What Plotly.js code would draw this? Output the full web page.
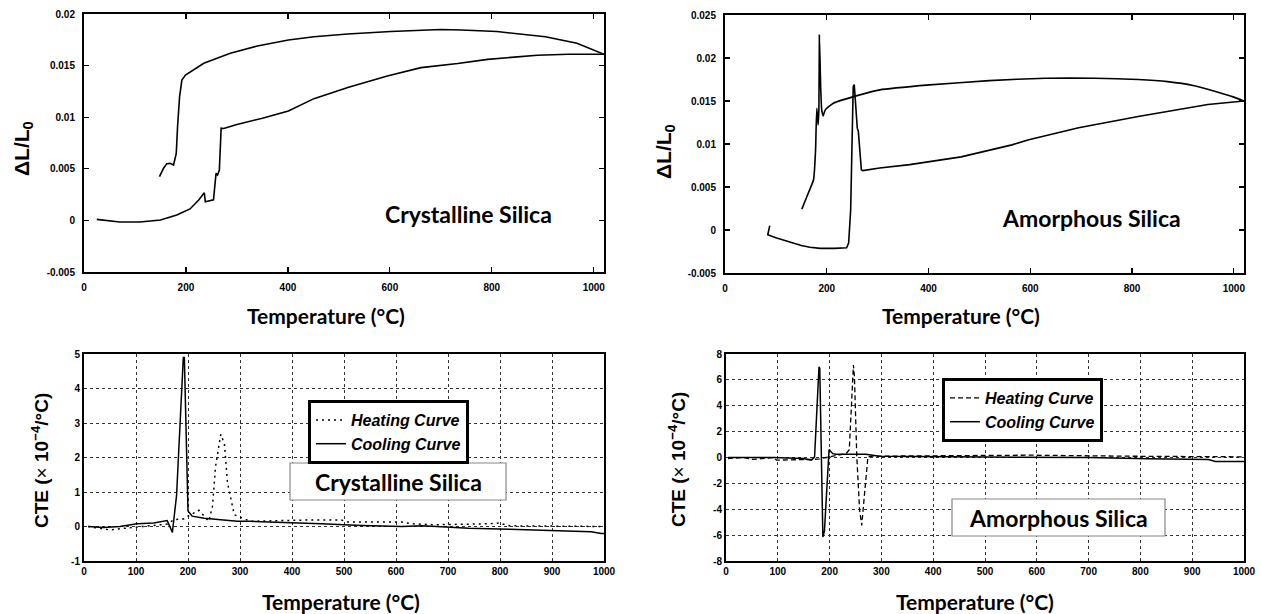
<!DOCTYPE html>
<html><head><meta charset="utf-8">
<script src="https://cdn.plot.ly/plotly-3.0.1.min.js"></script>
<style>html,body{margin:0;padding:0;background:#fff}#chart{width:1261px;height:614px}</style>
</head><body><div id="chart"></div>
<script>
// ---------- Panel 1: Crystalline silica, dL/L0 ----------
const xtalDLHeatT = [25, 45, 70, 110, 150, 182, 208, 225, 236, 238, 251, 254, 259, 262, 265.5, 269, 274, 300, 350, 401, 451, 519, 595, 661, 733, 792, 838, 889, 950, 1020];
const xtalDLHeat  = [0.0001, 0.0, -0.00016, -0.00016, 0.00004, 0.00052, 0.00111, 0.00198, 0.00268, 0.00181, 0.00198, 0.0020, 0.00456, 0.0044, 0.00488, 0.00893, 0.0089, 0.0093, 0.0099, 0.0106, 0.0118, 0.0129, 0.0140, 0.0148, 0.0152, 0.0156, 0.0158, 0.0160, 0.0161, 0.0161];
const xtalDLCoolT = [1020, 967, 905, 810, 740, 700, 602, 517, 451, 401, 340, 287, 235, 199, 192, 187.5, 183.5, 181, 175.6, 169, 162.6, 156, 148];
const xtalDLCool  = [0.0161, 0.01716, 0.0178, 0.0183, 0.01845, 0.0185, 0.0183, 0.01806, 0.0178, 0.01748, 0.0169, 0.0162, 0.01522, 0.01409, 0.0136, 0.0120, 0.00908, 0.0065, 0.00537, 0.00553, 0.0055, 0.00505, 0.00424];

// ---------- Panel 2: Amorphous silica, dL/L0 ----------
const amorDLHeatT = [88, 84, 100, 122, 150, 167, 187, 215, 239, 243, 247, 249, 252, 254, 256, 260, 262, 268, 271, 304, 363, 434, 464, 564, 597, 695, 812, 949, 1020];
const amorDLHeat  = [0.0005, -0.00055, -0.0009, -0.00133, -0.0018, -0.0020, -0.00214, -0.00214, -0.00206, -0.00152, 0.00235, 0.00816, 0.01667, 0.0169, 0.01474, 0.01184, 0.0115, 0.0070, 0.0069, 0.0072, 0.0076, 0.0082, 0.0085, 0.0099, 0.0105, 0.0119, 0.0132, 0.0146, 0.0150];
const amorDLCoolT = [1020, 1000, 964, 920, 870, 812, 727, 630, 519, 402, 304, 265, 213, 197, 193, 190, 188, 185.5, 184.5, 183, 180.5, 179, 178, 174, 161, 151];
const amorDLCool  = [0.0150, 0.01545, 0.0161, 0.0168, 0.01725, 0.0175, 0.01765, 0.01765, 0.01737, 0.01687, 0.01629, 0.01571, 0.01474, 0.01397, 0.01327, 0.0140, 0.0167, 0.02268, 0.0140, 0.01222, 0.01416, 0.01164, 0.00932, 0.00584, 0.0039, 0.00243];

// ---------- Panel 3: Crystalline silica, CTE ----------
const xtalCteHeatT = [8, 30, 50, 79, 100, 134, 160, 173, 192, 200, 221, 240, 247, 253, 263, 270, 276, 289, 320, 437, 495, 505, 611, 630, 675, 779, 798, 818, 900, 1000];
const xtalCteHeat  = [0, -0.05, -0.1, -0.05, -0.02, 0.05, 0.07, 0.2, 0.22, 0.3, 0.47, 0.15, 0.58, 1.74, 2.67, 2.4, 1.26, 0.34, 0.15, 0.19, 0.19, 0.13, 0.13, 0.08, 0.05, 0.08, 0.1, 0.02, 0.02, 0.0];
const xtalCteCoolT = [8, 37, 69, 102, 134, 160, 170, 178, 191, 193, 200, 208, 231, 295, 317, 424, 456, 534, 611, 651, 740, 818, 882, 975, 995, 1000];
const xtalCteCool  = [0, -0.03, 0, 0.08, 0.1, 0.17, -0.17, 0.9, 4.9, 4.9, 0.45, 0.3, 0.24, 0.15, 0.15, 0.08, 0.08, 0.03, 0.0, 0.02, -0.05, -0.08, -0.1, -0.15, -0.2, -0.2];

// ---------- Panel 4: Amorphous silica, CTE ----------
const amorCteHeatT = [4, 33, 52, 91, 97.5, 155, 168, 181, 232, 238, 246, 248, 252.5, 258, 262, 267, 274, 283, 400, 585, 777, 1000];
const amorCteHeat  = [-0.08, 0, -0.15, 0, -0.2, -0.2, -0.15, -0.1, 0.3, 0.6, 7.15, 6.2, 0.05, -4.1, -5.25, -3.0, 0.05, 0.1, 0.12, 0.18, 0.1, 0.05];
const amorCteCoolT = [4, 91, 149, 165, 171, 179.5, 181, 187, 190, 199, 206, 212, 270, 296, 500, 700, 815, 931, 945, 1000];
const amorCteCool  = [0, 0, -0.08, -0.2, 0.05, 7.0, 6.9, -6.15, -5.7, 0.62, 0.3, 0.25, 0.25, 0.1, 0.03, 0.0, -0.1, -0.15, -0.3, -0.3];

// ---------- Tick labels ----------
const topXTicks = [0, 200, 400, 600, 800, 1000];
const topXText = ['0', '200', '400', '600', '800', '1000'];
const xtalDLTicks = [-0.005, 0, 0.005, 0.01, 0.015, 0.02];
const xtalDLText = ['-0.005', '0', '0.005', '0.01', '0.015', '0.02'];
const amorDLTicks = [-0.005, 0, 0.005, 0.01, 0.015, 0.02, 0.025];
const amorDLText = ['-0.005', '0', '0.005', '0.01', '0.015', '0.02', '0.025'];
const botXTicks = [0, 100, 200, 300, 400, 500, 600, 700, 800, 900, 1000];
const botXText = ['0', '100', '200', '300', '400', '500', '600', '700', '800', '900', '1000'];
const xtalCteTicks = [-1, 0, 1, 2, 3, 4, 5];
const xtalCteText = ['-1', '0', '1', '2', '3', '4', '5'];
const amorCteTicks = [-8, -6, -4, -2, 0, 2, 4, 6, 8];
const amorCteText = ['-8', '-6', '-4', '-2', '0', '2', '4', '6', '8'];

const seriesNames = ['Heating Curve', 'Cooling Curve'];

const W = 1261, H = 614;
const px = v => v / W, py = v => 1 - v / H;

const tickFont = {family: 'Arial, Liberation Sans, sans-serif', size: 10, color: '#000', weight: 'bold'};
const blk = '#000';

const traces = [
  {x: xtalDLHeatT, y: xtalDLHeat, xaxis: 'x', yaxis: 'y', mode: 'lines', line: {color: blk, width: 1.6}, showlegend: false, name: seriesNames[0]},
  {x: xtalDLCoolT, y: xtalDLCool, xaxis: 'x', yaxis: 'y', mode: 'lines', line: {color: blk, width: 1.6}, showlegend: false, name: seriesNames[1]},
  {x: amorDLHeatT, y: amorDLHeat, xaxis: 'x2', yaxis: 'y2', mode: 'lines', line: {color: blk, width: 1.6}, showlegend: false, name: seriesNames[0]},
  {x: amorDLCoolT, y: amorDLCool, xaxis: 'x2', yaxis: 'y2', mode: 'lines', line: {color: blk, width: 1.6, shape: 'spline', smoothing: 0.4}, showlegend: false, name: seriesNames[1]},
  {x: xtalCteHeatT, y: xtalCteHeat, xaxis: 'x3', yaxis: 'y3', mode: 'lines', line: {color: blk, width: 1.5, dash: '2px,4px'}, name: seriesNames[0], legend: 'legend'},
  {x: xtalCteCoolT, y: xtalCteCool, xaxis: 'x3', yaxis: 'y3', mode: 'lines', line: {color: blk, width: 1.5}, name: seriesNames[1], legend: 'legend'},
  {x: amorCteHeatT, y: amorCteHeat, xaxis: 'x4', yaxis: 'y4', mode: 'lines', line: {color: blk, width: 1.3, dash: '5px,3px'}, name: seriesNames[0], legend: 'legend2'},
  {x: amorCteCoolT, y: amorCteCool, xaxis: 'x4', yaxis: 'y4', mode: 'lines', line: {color: blk, width: 1.5}, name: seriesNames[1], legend: 'legend2'}
];

function topAxis(domain, range, tv, tt, anchor) {
  return {domain, range, anchor, tickvals: tv, ticktext: tt, ticks: 'inside', ticklen: 5, tickwidth: 1.2, tickcolor: blk,
    mirror: 'ticks', showline: true, linewidth: 2, linecolor: blk, showgrid: false, zeroline: false, tickfont: tickFont,
    ticklabelstandoff: 5, fixedrange: true};
}
function botAxis(domain, range, tv, tt, anchor) {
  return {domain, range, anchor, tickvals: tv, ticktext: tt, ticks: '', mirror: true, showline: true, linewidth: 2, linecolor: blk,
    showgrid: true, gridcolor: '#333', griddash: 'dot', gridwidth: 1, zeroline: false, tickfont: tickFont, fixedrange: true};
}

const calib = 'Lato, Carlito, Calibri, sans-serif';
const arialB = {family: 'Arial, Liberation Sans, sans-serif', size: 21, color: blk, weight: 'bold'};
const tempFont = {family: calib, size: 21, color: blk, weight: 'bold'};
const labelFont = {family: calib, size: 23, color: blk, weight: 'bold'};
const legendFont = {family: 'Arial, Liberation Sans, sans-serif', size: 16, color: blk, weight: 'bold', style: 'italic'};

function ann(text, x, y, font, extra) {
  return Object.assign({text, xref: 'paper', yref: 'paper', x: px(x), y: py(y), xanchor: 'center', yanchor: 'middle', showarrow: false, font}, extra || {});
}

const cteTitle = 'CTE (<span style="font-weight:normal">×</span> 10<sup>−4</sup>/°C)';
const cteFont = Object.assign({}, arialB, {size: 19});

const layout = {
  width: W, height: H, margin: {l: 0, r: 0, t: 0, b: 0},
  paper_bgcolor: '#fff', plot_bgcolor: '#fff',
  xaxis:  topAxis([px(84), px(604)], [0, 1020], topXTicks, topXText, 'y'),
  yaxis:  topAxis([py(272), py(14)], [-0.005, 0.02], xtalDLTicks, xtalDLText, 'x'),
  xaxis2: topAxis([px(725), px(1244)], [0, 1020], topXTicks, topXText, 'y2'),
  yaxis2: topAxis([py(273), py(15)], [-0.005, 0.025], amorDLTicks, amorDLText, 'x2'),
  xaxis3: botAxis([px(84), px(604)], [0, 1000], botXTicks, botXText, 'y3'),
  yaxis3: botAxis([py(561), py(354)], [-1, 5], xtalCteTicks, xtalCteText, 'x3'),
  xaxis4: botAxis([px(726), px(1244)], [0, 1000], botXTicks, botXText, 'y4'),
  yaxis4: botAxis([py(561), py(354)], [-8, 8], amorCteTicks, amorCteText, 'x4'),
  legend: {x: px(308), y: py(400), xanchor: 'left', yanchor: 'top', bgcolor: '#fff', bordercolor: blk, borderwidth: 3,
    font: legendFont, traceorder: 'normal', itemwidth: 30, tracegroupgap: 0},
  legend2: {x: px(942), y: py(378), xanchor: 'left', yanchor: 'top', bgcolor: '#fff', bordercolor: blk, borderwidth: 3,
    font: legendFont, traceorder: 'normal', itemwidth: 30, tracegroupgap: 0},
  shapes: [
    {type: 'rect', xref: 'paper', yref: 'paper', x0: px(290), x1: px(506), y0: py(500), y1: py(463), line: {color: '#888', width: 1.2}, fillcolor: '#fff', layer: 'above'},
    {type: 'rect', xref: 'paper', yref: 'paper', x0: px(952), x1: px(1165), y0: py(536), y1: py(499), line: {color: '#888', width: 1.2}, fillcolor: '#fff', layer: 'above'}
  ],
  annotations: [
    ann('ΔL/L<sub>0</sub>', 23, 149, arialB, {textangle: -90}),
    ann('ΔL/L<sub>0</sub>', 665, 152, arialB, {textangle: -90}),
    ann(cteTitle, 40, 461, cteFont, {textangle: -90}),
    ann(cteTitle, 677, 460, cteFont, {textangle: -90}),
    ann('Temperature (°C)', 326, 315, tempFont),
    ann('Temperature (°C)', 961, 315, tempFont),
    ann('Temperature (°C)', 341, 601, tempFont),
    ann('Temperature (°C)', 975, 601, tempFont),
    ann('Crystalline Silica', 468, 214, labelFont),
    ann('Amorphous Silica', 1091, 218, labelFont),
    ann('Crystalline Silica', 398, 482, labelFont),
    ann('Amorphous Silica', 1058, 518, labelFont)
  ]
};

Plotly.newPlot('chart', traces, layout, {displayModeBar: false, staticPlot: true});
</script></body></html>
